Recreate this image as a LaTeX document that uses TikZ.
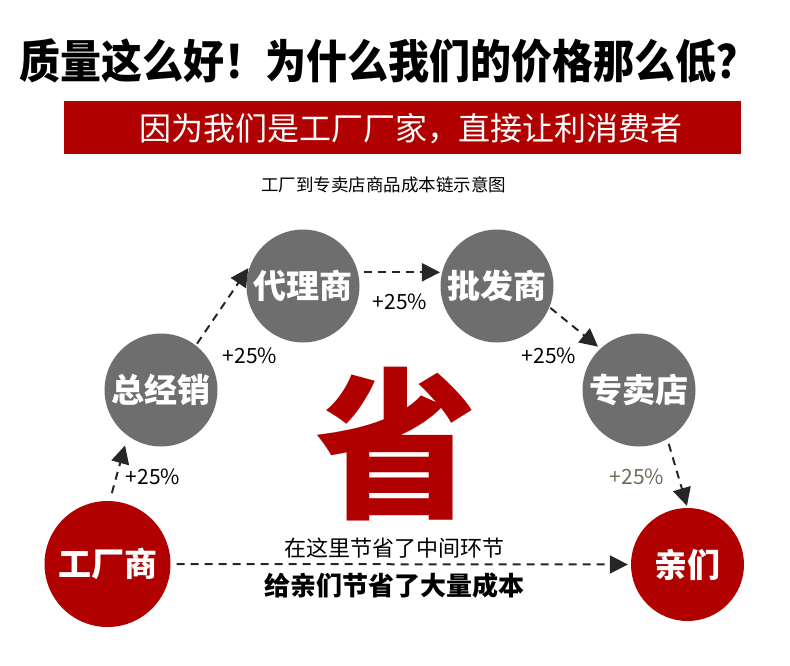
\documentclass[tikz,border=0pt]{standalone}
\usepackage{fontspec}
\setmainfont{Noto Sans CJK SC}
\usepackage{tikz}
\usetikzlibrary{arrows.meta}
\definecolor{redfactory}{HTML}{B00000}
\definecolor{graynode}{HTML}{6E6E6E}
\definecolor{graydash}{HTML}{262626}
\definecolor{brownlabel}{HTML}{716A5C}
\newcommand{\fsz}[1]{\fontsize{#1}{#1}\selectfont}
\tikzset{
  chainnode/.style={circle,fill=graynode,text=white,inner sep=0pt,minimum size=113pt,font=\fsz{33}\bfseries},
  endnode/.style={chainnode,fill=redfactory},
  markup/.style={font=\fsz{21}},
  chainarrow/.style={-{Triangle[length=18pt,width=18pt]},graydash,line width=2pt,dash pattern=on 8pt off 6pt},
}

\begin{document}
\begin{tikzpicture}[x=1pt,y=-1pt]
  \useasboundingbox (0,0) rectangle (790,665);
  % Heading, red banner and caption.
  \node[font=\fsz{41}\bfseries] (title) at (388.5,60.5) {\scalebox{1}[1.12]{质量这么好！为什么我们的价格那么低？}};
  \fill[redfactory] (64,101) rectangle (741,154);
  \node[text=white,font=\fsz{32}] (banner) at (411,128.5) {因为我们是工厂厂家，直接让利消费者};
  \node[font=\fsz{17.5}] (caption) at (383.5,185) {工厂到专卖店商品成本链示意图};
  % The big character in the middle.
  \node[text=redfactory,font=\fsz{162}\bfseries] (sheng) at (396,444) {省};
  % Chain from factory to customer.
  \node[endnode,minimum size=126pt] (fac) at (107.5,564) {工厂商};
  \node[chainnode] (zjx) at (161,390) {总经销};
  \node[chainnode] (dls) at (303,286) {代理商};
  \node[chainnode] (pfs) at (497,286) {批发商};
  \node[chainnode] (zmd) at (639,390) {专卖店};
  \node[endnode] (qm) at (687.5,564.5) {亲们};
  \draw[chainarrow,shorten <=8pt,shorten >=10pt] (fac.88) -- (zjx.234);
  \draw[chainarrow,shorten <=2pt,shorten >=3pt] (zjx.52) -- (dls.159);
  \draw[chainarrow,shorten <=6pt,shorten >=2pt] (dls.14) -- (pfs.166);
  \draw[chainarrow,shorten <=1pt,shorten >=3pt] (pfs.-22) -- (zmd.133);
  \draw[chainarrow,shorten <=5pt,shorten >=2pt] (zmd.-60) -- (qm.90);
  \foreach \nm/\px/\py in {pa/153/477,pb/250/356,pc/400/302,pd/549/356}
    \node[markup] (\nm) at (\px,\py) {+25\%};
  \node[markup,text=brownlabel] (pe) at (637,477) {+25\%};
  % Direct way, skipping the middlemen.
  \draw[chainarrow,shorten <=6pt,shorten >=3pt] (fac.east) -- (qm.west);
  \node[font=\fsz{22}] (midtext) at (394,548) {在这里节省了中间环节};
  \node[font=\fsz{26}\bfseries] (savetext) at (394,586) {给亲们节省了大量成本};
\end{tikzpicture}
\end{document}
